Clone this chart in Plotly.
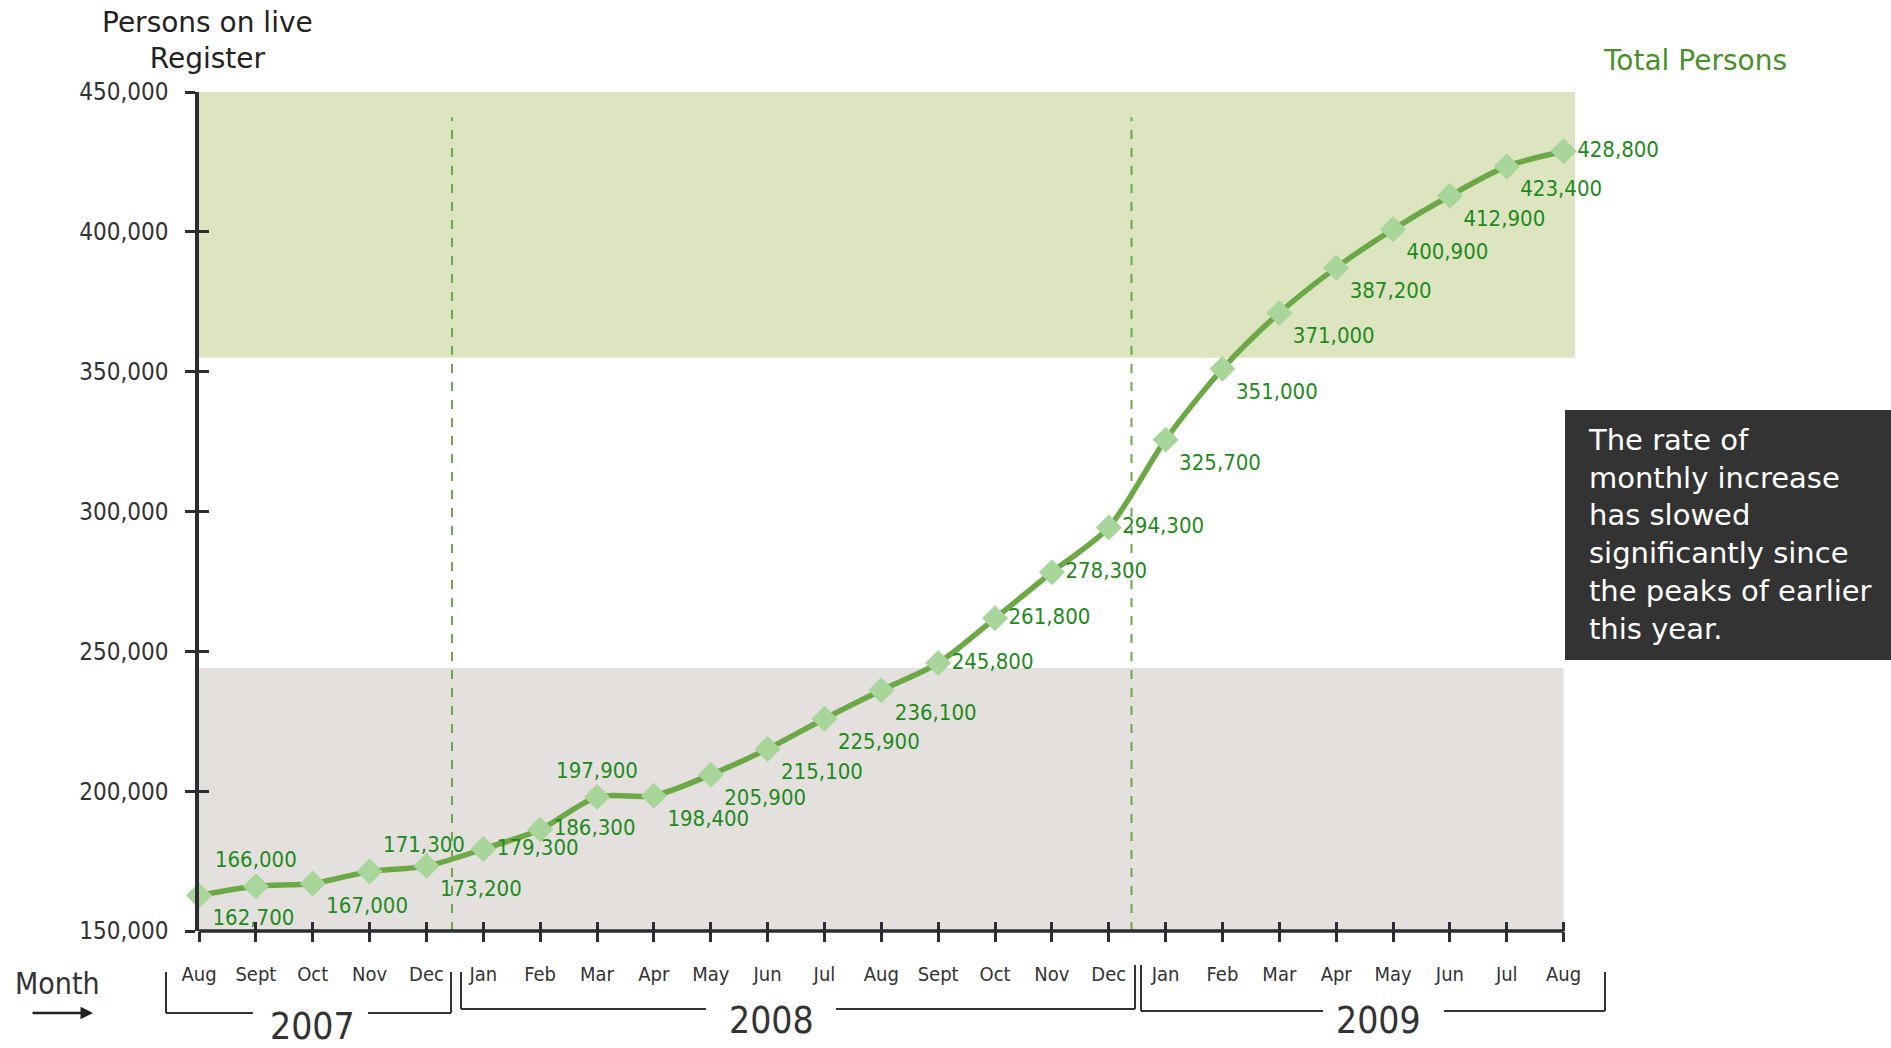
import plotly.graph_objects as go

# ---------------- data ----------------
months = ["Aug", "Sept", "Oct", "Nov", "Dec",
          "Jan", "Feb", "Mar", "Apr", "May", "Jun", "Jul", "Aug", "Sept", "Oct", "Nov", "Dec",
          "Jan", "Feb", "Mar", "Apr", "May", "Jun", "Jul", "Aug"]
years = ["2007", "2008", "2009"]
persons = [162700, 166000, 167000, 171300, 173200,
           179300, 186300, 197900, 198400, 205900, 215100, 225900, 236100, 245800, 261800, 278300, 294300,
           325700, 351000, 371000, 387200, 400900, 412900, 423400, 428800]
y_ticks = [150000, 200000, 250000, 300000, 350000, 400000, 450000]
series_name = "Total Persons"
note_text = ("The rate of<br>monthly increase<br>has slowed<br>significantly since"
             "<br>the peaks of earlier<br>this year.")

# label placement (style only)
label_pos = ["bottom right", "top center", "bottom right", "top right", "bottom right",
             "middle right", "middle right", "top center", "bottom right", "bottom right",
             "bottom right", "bottom right", "bottom right", "middle right", "middle right",
             "middle right", "middle right", "bottom right", "bottom right", "bottom right",
             "bottom right", "bottom right", "bottom right", "bottom right", "middle right"]

# ---------------- layout geometry ----------------
W, H = 1891, 1048
ML, MR, MT, MB = 199, 316, 92, 117
PW, PH = W - ML - MR, H - MT - MB
XMAX = 24.2

def fx(pix):
    return (pix - ML) / PW

def fy(pix):
    return (H - MB - pix) / PH

COND = "DejaVu Sans Condensed, Liberation Sans Narrow, DejaVu Sans, sans-serif"
HUM = "DejaVu Sans, Noto Sans, sans-serif"
AX = "#2b2d33"
TXT = "#333333"
LINE_G = "#6da847"
MARK_G = "#a8d59a"
LAB_G = "#1f8a1c"

x = list(range(len(months)))

fig = go.Figure()

fig.add_trace(go.Scatter(
    x=x, y=persons, mode="lines+markers+text",
    name=series_name,
    line=dict(color=LINE_G, width=5.5, shape="spline", smoothing=0.8),
    marker=dict(symbol="diamond", size=20, color=MARK_G),
    text=[f"{v:,}" for v in persons],
    textposition=label_pos,
    textfont=dict(family=COND, size=22, color=LAB_G),
    cliponaxis=False, showlegend=False, hoverinfo="skip",
))

# empty trace to create overlay axes for inner tick halves
fig.add_trace(go.Scatter(x=[], y=[], xaxis="x2", yaxis="y2", showlegend=False, hoverinfo="skip"))

shapes = []
# background bands
shapes.append(dict(type="rect", xref="x", yref="y", x0=0, x1=XMAX, y0=355000, y1=450000,
                   fillcolor="#dde4c0", line=dict(width=0), layer="below"))
shapes.append(dict(type="rect", xref="x", yref="y", x0=0, x1=24, y0=150000, y1=244000,
                   fillcolor="#e3e0de", line=dict(width=0), layer="below"))
# year dividers
for xv in (4.45, 16.4):
    shapes.append(dict(type="line", xref="x", yref="y", x0=xv, x1=xv, y0=150000, y1=441000,
                       line=dict(color="#6aa84f", width=2, dash="dash"), layer="below"))
# x axis line (ends at last month)
shapes.append(dict(type="line", xref="x", yref="paper", x0=0, x1=24, y0=0, y1=0,
                   line=dict(color=AX, width=3.5)))

# year brackets (pixel geometry)
brackets = [
    # (x_left, x_gap0, x_gap1, x_right, y_bottom, y_top_left, y_top_right)
    (166, 253, 368, 451, 1013, 972, 972),
    (461, 706, 836, 1135, 1009, 972, 965),
    (1141, 1323, 1444, 1605, 1011, 965, 972),
]
for xl, g0, g1, xr, yb, ytl, ytr in brackets:
    for (a, b, c, d) in [(xl, ytl, xl, yb), (xl, yb, g0, yb), (g1, yb, xr, yb), (xr, yb, xr, ytr)]:
        shapes.append(dict(type="line", xref="paper", yref="paper",
                           x0=fx(a), y0=fy(b), x1=fx(c), y1=fy(d),
                           line=dict(color=TXT, width=2)))

# note box
shapes.append(dict(type="rect", xref="paper", yref="paper", x0=fx(1565), x1=fx(1891),
                   y0=fy(660), y1=fy(410), fillcolor="#333333", line=dict(width=0)))

def ann(text, px, py, size, color, family=HUM, **kw):
    d = dict(text=text, xref="paper", yref="paper", x=fx(px), y=fy(py),
             xanchor="center", yanchor="middle", showarrow=False,
             font=dict(family=family, size=size, color=color))
    d.update(kw)
    return d

annotations = [
    ann("Persons on live<br>Register", 207, 41, 28, "#222222", align="center"),
    ann(series_name, 1695, 60, 28, "#4a8f2b"),
    ann(note_text, 1586, 534, 29, "white", xanchor="left", align="left"),
    ann("Month", 57, 983, 30, TXT, family=COND),
    dict(text="", xref="paper", yref="paper", x=fx(93), y=fy(1013), ax=-62, ay=0,
         showarrow=True, arrowhead=2, arrowsize=1, arrowwidth=2.5, arrowcolor="#222222"),
]
year_pos = [(312, 1026), (771, 1020), (1378, 1020)]
for yr, (px, py) in zip(years, year_pos):
    annotations.append(ann(yr, px, py, 37, TXT, family=COND))

fig.update_layout(
    width=W, height=H,
    margin=dict(l=ML, r=MR, t=MT, b=MB),
    paper_bgcolor="white", plot_bgcolor="rgba(0,0,0,0)",
    shapes=shapes, annotations=annotations,
    xaxis=dict(range=[0, XMAX], showgrid=False, zeroline=False, showline=False,
               tickvals=x, ticktext=months, ticks="outside", ticklen=10, tickwidth=3,
               tickcolor=AX, ticklabelstandoff=15,
               tickfont=dict(family=COND, size=20, color=TXT)),
    yaxis=dict(range=[150000, 450000], showgrid=False, zeroline=False,
               showline=True, linecolor=AX, linewidth=3.5,
               tickvals=y_ticks, tickformat=",", ticks="outside", ticklen=10, tickwidth=3,
               tickcolor=AX, ticklabelstandoff=12,
               tickfont=dict(family=COND, size=24, color=TXT)),
    xaxis2=dict(range=[0, XMAX], overlaying="x", anchor="y2", side="bottom",
                showgrid=False, zeroline=False, showline=False, showticklabels=False,
                tickvals=x, ticks="inside", ticklen=9, tickwidth=3, tickcolor=AX),
    yaxis2=dict(range=[150000, 450000], overlaying="y", anchor="x2", side="left",
                showgrid=False, zeroline=False, showline=False, showticklabels=False,
                tickvals=y_ticks, ticks="inside", ticklen=10, tickwidth=3, tickcolor=AX),
)

fig.write_html("out.html")
